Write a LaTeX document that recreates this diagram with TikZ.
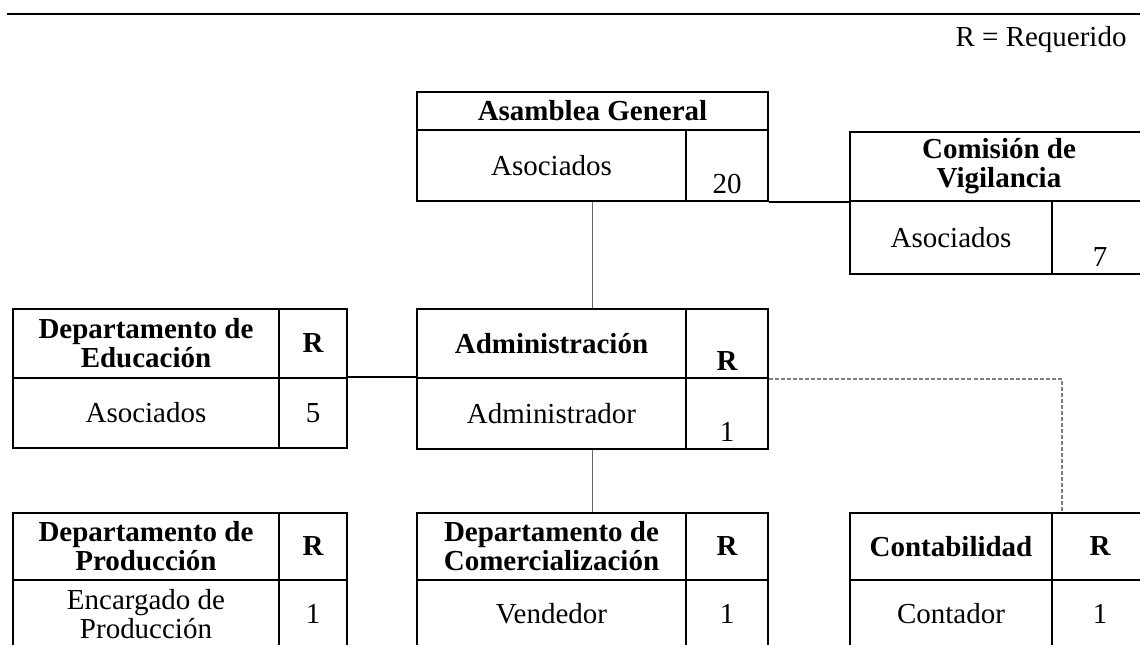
\documentclass[tikz,border=0pt]{standalone}
\usepackage{fontspec}
\setmainfont{Liberation Serif}
\usepackage{tikz}

\def\px{0.414pt}

\begin{document}
\begin{tikzpicture}[
  x=\px, y=-\px,
  font=\fontsize{12}{12}\selectfont,
  cell/.style 2 args={draw, line width=0.83pt, minimum width=#1*\px, minimum height=#2*\px, inner sep=0pt, align=center},
  lowcell/.style={text height=#1*\px, text depth=0pt, inner ysep=7*\px},
  head/.style={font=\fontsize{12}{12}\selectfont\bfseries},
  link/.style={black!60, line width=0.45pt},
  joint/.style={black, line width=0.83pt},
  dashlink/.style={gray, line width=0.45pt, dash pattern=on 1.66pt off 0.83pt},
]
\useasboundingbox (0,0) rectangle (1140,645);
\clip (0,0) rectangle (1140,645);

% ---------- columns (cell centres) ----------
\def\xA{146}     % left column, text cell
\def\xAn{313}    % left column, number cell
\def\xB{551.5}   % middle column, text cell
\def\xBn{727}    % middle column, number cell
\def\xC{951}     % right column, text cell
\def\xCn{1100}   % right column, number cell (runs off the page)

% ---------- heading ----------
\draw[line width=0.83pt] (7,14) -- (1140,14);
\node[anchor=base east, inner sep=0pt] (legend) at (1127,47) {R = Requerido};

% =====================================================
% ROW 1 : Asamblea General, Comision de Vigilancia
% =====================================================
\node[cell={351}{38}, head] (asamH) at (592.5,111) {Asamblea General};
\node[cell={269}{71}]        (asamL) at (\xB,165.5) {Asociados};
\node[cell={82}{71}, lowcell=57] (asamN) at (\xBn,165.5) {20};

\node[cell={298}{69}, head] (comH) at (999,166.5) {Comisión de\\Vigilancia};
\node[cell={202}{73}]        (comL) at (\xC,237.5) {Asociados};
\node[cell={96}{73}, lowcell=59] (comN) at (\xCn,237.5) {7};

% =====================================================
% ROW 2 : Educacion, Administracion
% =====================================================
\node[cell={266}{69}, head] (eduH) at (\xA,343.5) {Departamento de\\Educación};
\node[cell={68}{69}, head]  (eduR) at (\xAn,343.5) {R};
\node[cell={266}{70}]        (eduL) at (\xA,413) {Asociados};
\node[cell={68}{70}]         (eduN) at (\xAn,413) {5};

\node[cell={269}{69}, head] (admH) at (\xB,343.5) {Administración};
\node[cell={82}{69}, head, lowcell=55] (admR) at (\xBn,343.5) {R};
\node[cell={269}{71}]        (admL) at (\xB,413.5) {Administrador};
\node[cell={82}{71}, lowcell=57] (admN) at (\xBn,413.5) {1};

% =====================================================
% ROW 3 : Produccion, Comercializacion, Contabilidad
% =====================================================
\node[cell={266}{67}, head] (proH) at (\xA,546.5) {Departamento de\\Producción};
\node[cell={68}{67}, head]  (proR) at (\xAn,546.5) {R};
\node[cell={266}{68}]        (proL) at (\xA,614) {Encargado de\\Producción};
\node[cell={68}{68}]         (proN) at (\xAn,614) {1};

\node[cell={269}{67}, head] (comeH) at (\xB,546.5) {Departamento de\\Comercialización};
\node[cell={82}{67}, head]  (comeR) at (\xBn,546.5) {R};
\node[cell={269}{68}]        (comeL) at (\xB,614) {Vendedor};
\node[cell={82}{68}]         (comeN) at (\xBn,614) {1};

\node[cell={202}{67}, head] (conH) at (\xC,546.5) {Contabilidad};
\node[cell={96}{67}, head]  (conR) at (\xCn,546.5) {R};
\node[cell={202}{68}]        (conL) at (\xC,614) {Contador};
\node[cell={96}{68}]         (conN) at (\xCn,614) {1};

% ---------- connectors ----------
\draw[link]  (asamH.south |- asamL.south) -- (asamH.south |- admH.north);
\draw[link]  (asamH.south |- admL.south) -- (asamH.south |- comeH.north);
\draw[joint] (asamN.south east) -- (asamN.south east -| comL.west);
\draw[black, line width=0.45pt] (eduN.north east) -- (eduN.north east -| admL.west);

\coordinate (conTap) at (1062,513);
\draw[dashlink] (admR.south east) -| (conTap);

\end{tikzpicture}
\end{document}
